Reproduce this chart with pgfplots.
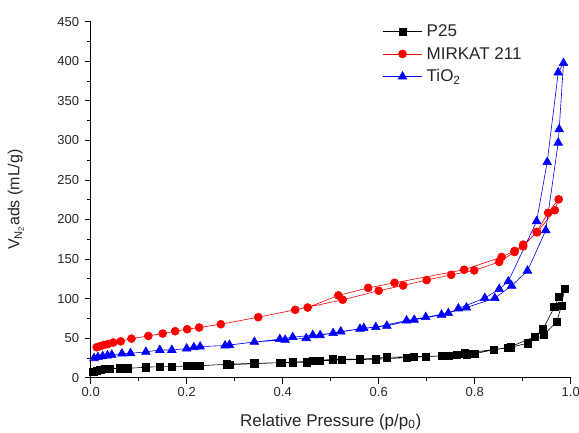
\documentclass[border=0pt]{standalone}
\usepackage{fontspec}
\setmainfont{Liberation Sans}
\usepackage{pgfplots}
\pgfplotsset{compat=1.18}

\begin{document}
\begin{tikzpicture}
\begin{axis}[
    scale only axis,
    width=480pt,
    height=356pt,
    xmin=0, xmax=1.0,
    ymin=0, ymax=450,
    axis lines=left,
    axis line style={-, line width=1pt},
    tick align=outside,
    tick style={black, line width=0.8pt},
    major tick length=6pt,
    minor tick length=3.5pt,
    xtick={0,0.2,...,1.0},
    minor xtick={0.1,0.3,...,0.9},
    ytick={0,50,...,450},
    minor ytick={25,75,...,425},
    xticklabel style={/pgf/number format/.cd,fixed,fixed zerofill,precision=1},
    yticklabel style={xshift=-2pt},
    /pgf/number format/assume math mode=true,
    ticklabel style={font=\fontsize{13}{15}\selectfont, color=black!85},
    xlabel={Relative Pressure (p/p\textsubscript{0})},
    ylabel={V\textsubscript{N\textsubscript{2}}ads (mL/g)},
    xlabel style={font=\fontsize{17}{20}\selectfont, color=black!85,
        at={(axis description cs:0.5,-0.124)}, anchor=center},
    ylabel style={font=\fontsize{16}{19}\selectfont, color=black!85,
        at={(axis description cs:-0.156,0.5)}, anchor=center},
    legend cell align=left,
    legend style={draw=none, fill=none, font=\fontsize{17}{20}\selectfont,
        text=black!85, inner sep=1pt, nodes={inner xsep=4pt},
        at={(axis description cs:0.605,1.0)}, anchor=north west, row sep=5pt},
    legend image code/.code={\draw[mark repeat=2, mark phase=2]
        plot coordinates {(0cm,0cm) (0.7cm,0cm) (1.4cm,0cm)};},
]

% P25
\addplot[black, line width=0.6pt, mark=square*, mark size=3.6pt,
    mark options={solid, fill=black}] coordinates {
    (0.0055,7.6) (0.012,9) (0.02,10) (0.03,10.8) (0.04,11.4) (0.06,11.8)
    (0.078,11.9) (0.115,13.2) (0.144,14) (0.169,14) (0.2,14.8) (0.215,15)
    (0.228,15.2) (0.283,16.9) (0.341,18.2) (0.398,19) (0.45,19.5) (0.477,21.2)
    (0.523,22.5) (0.594,23.3) (0.658,25.4) (0.698,26.6) (0.745,28) (0.783,29.6)
    (0.799,30.4) (0.839,35.1) (0.875,38.4) (0.91,43.6) (0.944,54) (0.971,71)
    (0.981,91.3) (0.987,112.4)
    (0.976,102.7) (0.966,89.2) (0.942,61.3) (0.926,52) (0.87,38) (0.78,30.9)
    (0.762,29.2) (0.731,27.5) (0.673,26.6) (0.617,25.8) (0.561,23.3) (0.505,23.3)
    (0.4625,21.2) (0.421,19.5) (0.394,19) (0.289,16.5)
};
\addlegendentry{P25}

% MIRKAT 211
\addplot[red, line width=0.6pt, mark=*, mark size=4pt,
    mark options={solid, fill=red}] coordinates {
    (0.0125,38.5) (0.02,40) (0.028,41.5) (0.036,42.5) (0.047,44.5) (0.0625,46)
    (0.085,49.4) (0.12,52.8) (0.15,55.8) (0.176,58.8) (0.201,61.3) (0.226,63.4)
    (0.271,67.6) (0.349,76.5) (0.426,85.8) (0.525,98.5) (0.60,109.9) (0.651,116.6)
    (0.70,123.4) (0.751,130) (0.799,135.6) (0.851,146.3) (0.883,158.9) (0.901,166)
    (0.929,184.3) (0.953,208.4) (0.975,225.5)
    (0.967,211.7) (0.93,183.8) (0.901,168.2) (0.883,160.2) (0.856,152.6)
    (0.778,136.5) (0.633,120) (0.578,113.5) (0.516,104) (0.452,88.7)
};
\addlegendentry{MIRKAT 211}

% TiO2
\addplot[blue, line width=0.6pt, mark=triangle*, mark size=5pt,
    mark options={solid, fill=blue}] coordinates {
    (0.007,24.6) (0.015,26) (0.025,27) (0.035,28) (0.044,29) (0.065,30.4)
    (0.083,30.9) (0.115,32.6) (0.144,35) (0.169,35) (0.2,36.8) (0.215,38.5)
    (0.228,39.3) (0.28,40.6) (0.341,45.2) (0.405,47.8) (0.449,49.9) (0.478,53.7)
    (0.521,58.3) (0.569,62.6) (0.617,65.5) (0.674,73.1) (0.731,79.5) (0.783,88.7)
    (0.842,100.6) (0.877,116.2) (0.91,135.2) (0.948,186.3) (0.974,297) (0.976,314)
    (0.985,397.6)
    (0.974,385.8) (0.951,272.5) (0.929,197.7) (0.87,121.7) (0.851,112)
    (0.821,100.6) (0.766,87.5) (0.745,81.6) (0.698,76.5) (0.658,72.3)
    (0.594,63.9) (0.561,61.7) (0.505,56.3) (0.4625,53.7) (0.421,51.2)
    (0.394,48.7) (0.289,41.4)
};
\addlegendentry{TiO\textsubscript{2}}

\end{axis}
\pgfresetboundingbox
\path[use as bounding box] (-90.7pt,-54.3pt) rectangle (488.3pt,377.7pt);
\end{tikzpicture}
\end{document}
